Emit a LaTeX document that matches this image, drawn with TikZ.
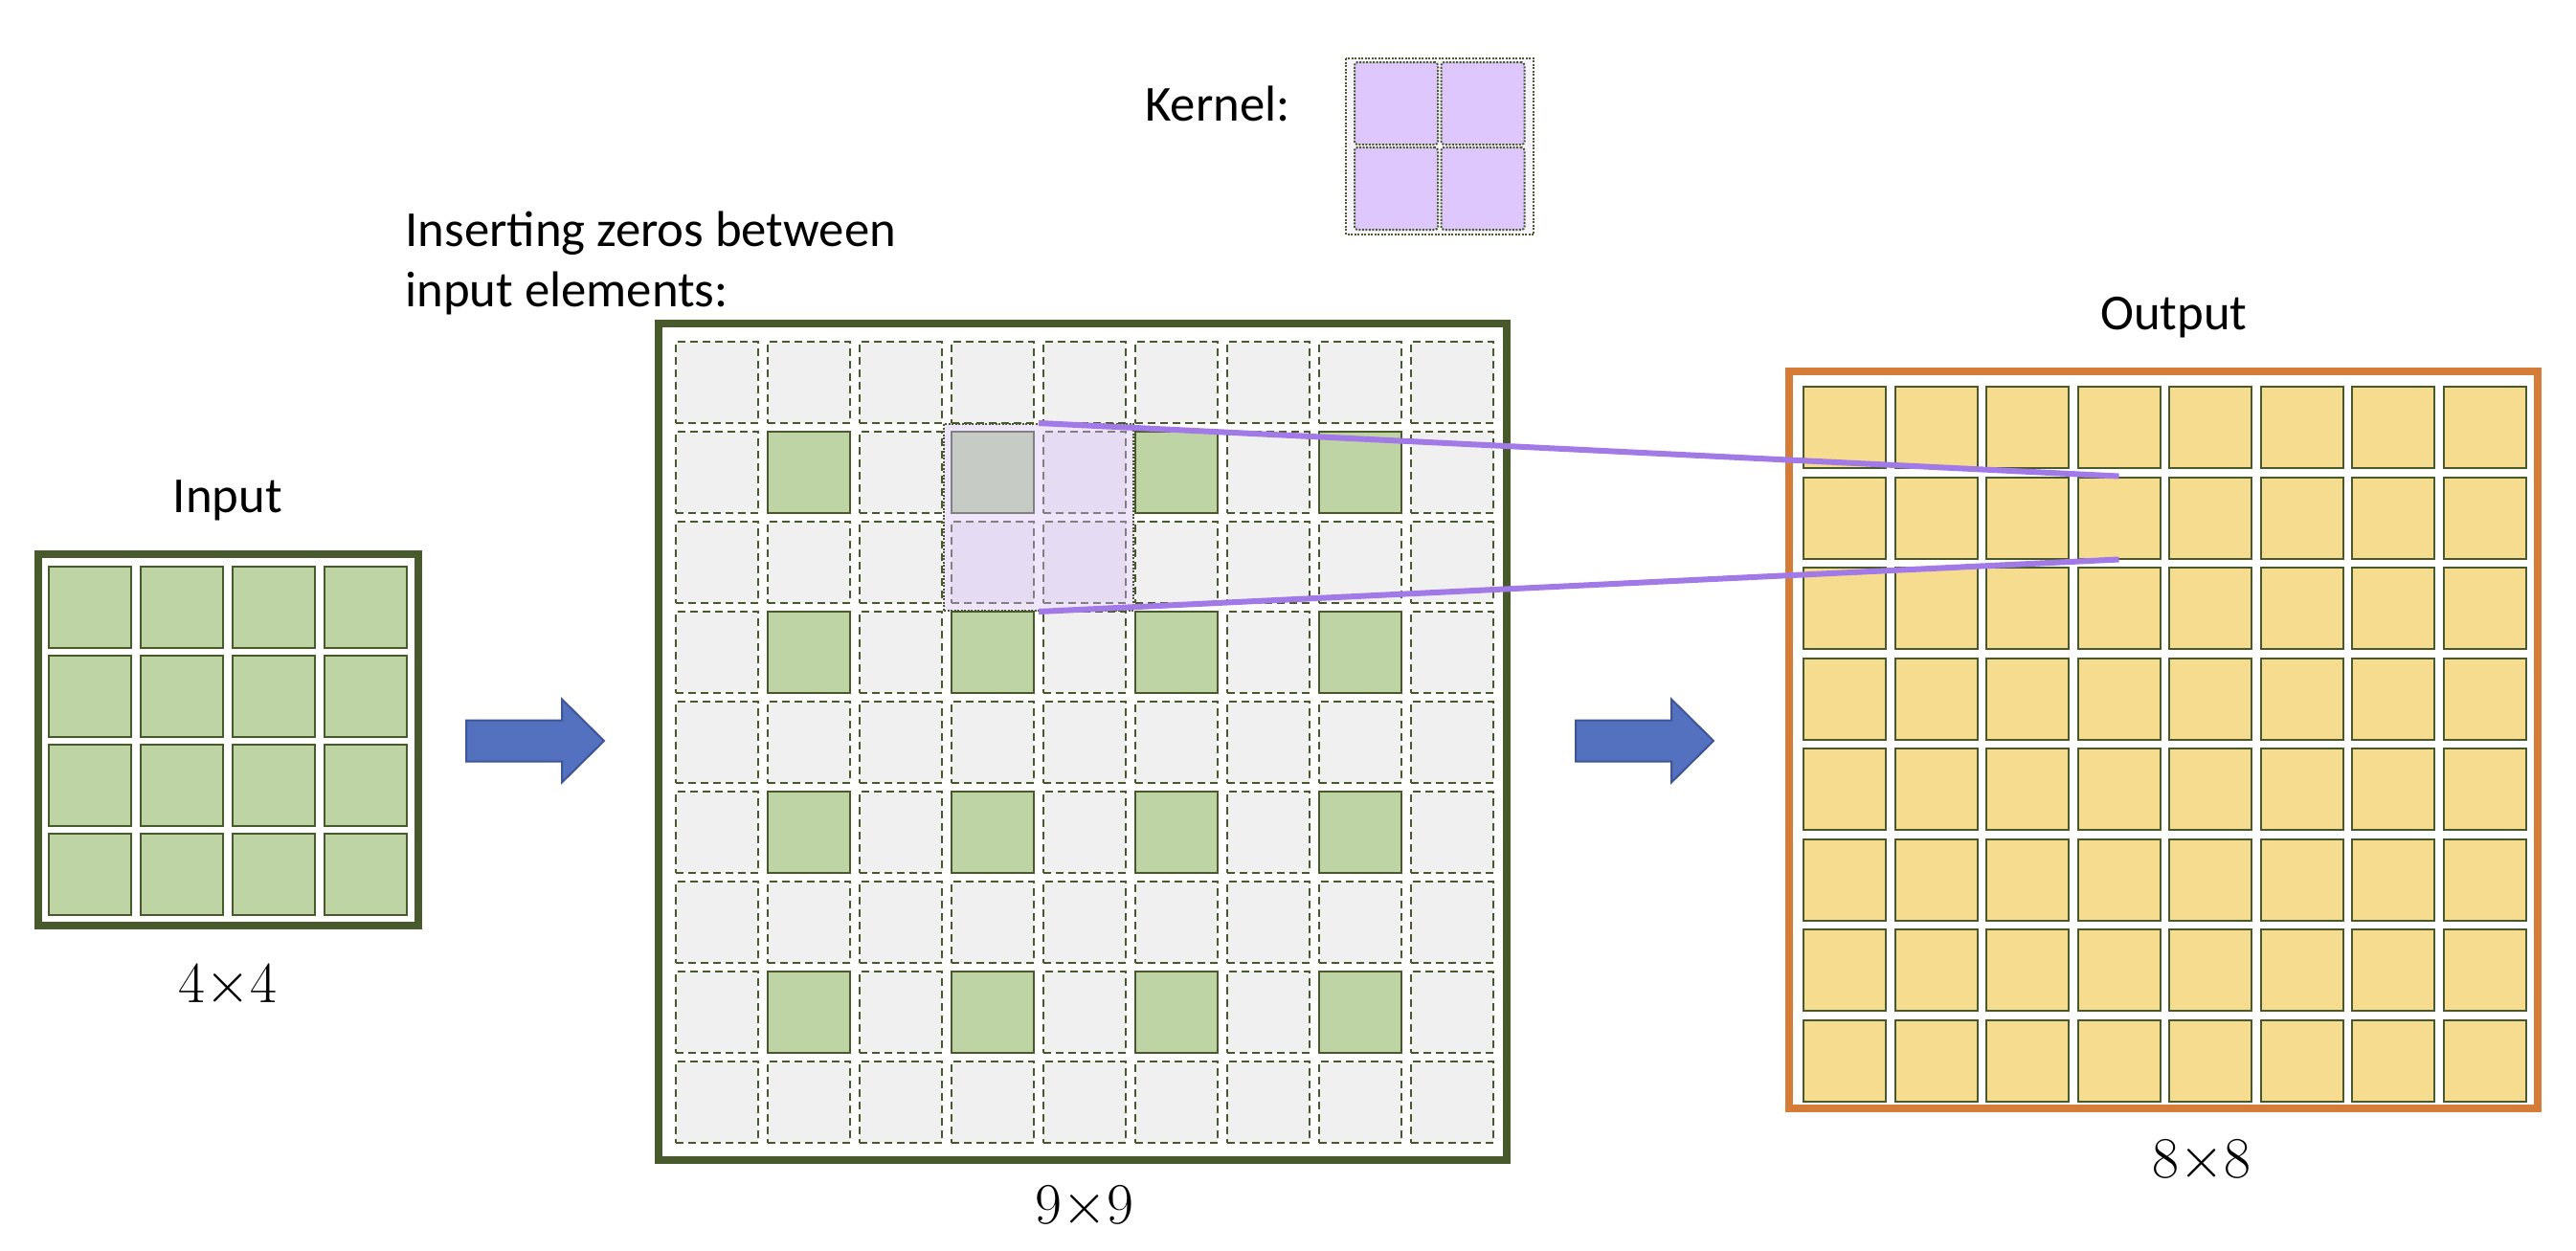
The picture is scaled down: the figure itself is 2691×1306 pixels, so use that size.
\documentclass[tikz,border=0pt]{standalone}
\usepackage[no-math]{fontspec}
\setmainfont{Carlito}
\usepackage{xcolor}
\usepackage{tikz}
\usetikzlibrary{fit}

\definecolor{frameGreen}{RGB}{72,89,44}
\definecolor{cellGreen}{RGB}{190,212,164}
\definecolor{zeroGray}{RGB}{240,240,240}
\definecolor{outOrange}{RGB}{214,124,57}
\definecolor{cellGold}{RGB}{245,220,143}
\definecolor{kernPurple}{RGB}{221,199,252}
\definecolor{kernBack}{RGB}{247,244,253}
\definecolor{winPurple}{RGB}{214,190,250}
\definecolor{arrowBlue}{RGB}{84,113,192}
\definecolor{arrowEdge}{RGB}{62,86,152}
\definecolor{linePurple}{RGB}{161,122,232}

\begin{document}
\begin{tikzpicture}[x=0.1mm, y=-0.1mm,
  lbl/.style={font=\fontsize{15}{18}\selectfont},
  dimlbl/.style={font=\fontsize{17.5}{21}\selectfont},
  cell/.style={rectangle, inner sep=0pt, minimum width=8.6mm, minimum height=8.5mm,
    line width=0.2mm, draw=frameGreen},
  incell/.style={cell, fill=cellGreen},
  zerocell/.style={cell, fill=zeroGray, dash pattern=on 0.8mm off 0.5mm},
  outcell/.style={cell, fill=cellGold},
  kcell/.style={cell, fill=kernPurple, minimum width=8.7mm, minimum height=8.6mm,
    dash pattern=on 0.2mm off 0.15mm, rounded corners=0.3mm},
  kwin/.style={rectangle, inner sep=0.7mm, draw=frameGreen, line width=0.2mm,
    dash pattern=on 0.2mm off 0.15mm, fill=winPurple, fill opacity=0.4},
  frame/.style={line width=0.8mm},
  bigarrow/.style={fill=arrowBlue, draw=arrowEdge, line width=0.2mm},
  kline/.style={linePurple, line width=0.6mm},
]
  \useasboundingbox (0,0) rectangle (2691,1306);

  % input
  \node[lbl] (inlabel) at (238,523) {Input};
  \draw[frame, frameGreen] (40,579) rectangle (437,967);
  \foreach \r in {0,...,3}
    \foreach \c in {0,...,3}
      \node[incell] (in-\r-\c) at (94+96*\c, 634.5+93*\r) {};
  \node[dimlbl] (insize) at (238,1030) {$4{\times}4$};

  \coordinate (a1) at (487,774);
  \draw[bigarrow] (a1) ++(0,-21.5) -- ++(100,0) -- ++(0,-22) -- ++(44,43.5)
    -- ++(-44,43.5) -- ++(0,-22) -- ++(-100,0) -- cycle;

  % zeros inserted
  \node[lbl, align=left, anchor=north west] (zlabel) at (411,208)
    {Inserting zeros between\\input elements:};
  \draw[frame, frameGreen] (688,338) rectangle (1574,1212);
  \foreach \r in {0,...,8}
    \foreach \c in {0,...,8} {
      \def\kind{zerocell}
      \ifodd\r \ifodd\c \def\kind{incell}\fi \fi
      \node[\kind] (z-\r-\c) at (749+96*\c, 399.5+94*\r) {};
    }
  \node[kwin, fit=(z-1-3)(z-2-4)] (win) {};
  \node[dimlbl] (zsize) at (1133,1261) {$9{\times}9$};

  % kernel
  \node[lbl] (klabel) at (1272,108) {Kernel:};
  \draw[fill=kernBack, draw=frameGreen, line width=0.2mm,
    dash pattern=on 0.2mm off 0.15mm] (1406,61) rectangle (1602,245);
  \foreach \r in {0,1}
    \foreach \c in {0,1}
      \node[kcell] (k-\r-\c) at (1458.5+90.5*\c, 108+89*\r) {};

  \coordinate (a2) at (1646,774);
  \draw[bigarrow] (a2) ++(0,-21.5) -- ++(100,0) -- ++(0,-22) -- ++(44,43.5)
    -- ++(-44,43.5) -- ++(0,-22) -- ++(-100,0) -- cycle;

  % output
  \node[lbl] (outlabel) at (2271,332) {Output};
  \draw[frame, outOrange] (1869,388) rectangle (2651,1158);
  \foreach \r in {0,...,7}
    \foreach \c in {0,...,7}
      \node[outcell] (out-\r-\c) at (1927+95.5*\c, 446.5+94.5*\r) {};
  \node[dimlbl] (outsize) at (2300,1213) {$8{\times}8$};

  \draw[kline] (win.north) -- (out-1-3.north);
  \draw[kline] (win.south) -- (out-1-3.south);
\end{tikzpicture}
\end{document}
